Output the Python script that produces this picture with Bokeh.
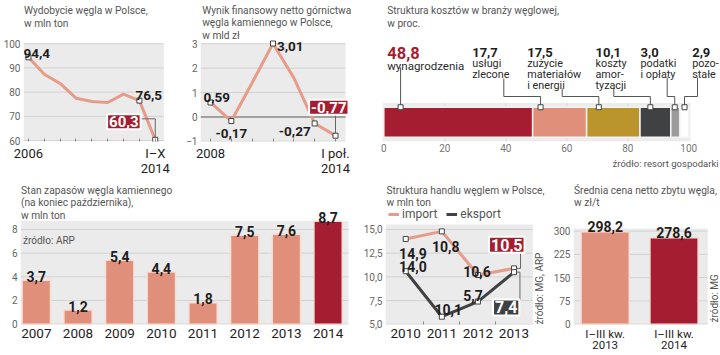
import numpy as np
from bokeh.plotting import figure
from bokeh.models import (Range1d, FixedTicker, Label, BoxAnnotation, Legend, LegendItem, Title)
from bokeh.layouts import row, column
from bokeh.embed import file_html
from bokeh.resources import INLINE

# ---------------- data ----------------
prod_periods = ["2006", "", "", "", "", "", "", "", "I–X\n2014"]
prod_values = [94.4, 87.4, 83.6, 77.5, 76.1, 75.7, 79.2, 76.5, 60.3]
prod_marked = [0, 7, 8]

fin_periods = ["2008", "", "", "", "", "", "I poł.\n2014"]
fin_values = [0.59, -0.17, 1.40, 3.01, 1.60, -0.27, -0.77]
fin_marked = [0, 1, 3, 5, 6]

cost_values = [48.8, 17.7, 17.5, 10.1, 3.0, 2.9]
cost_labels = ["48,8", "17,7", "17,5", "10,1", "3,0", "2,9"]
cost_desc = [["wynagrodzenia"], ["usługi", "zlecone"], ["zużycie", "materiałów", "i energii"],
             ["koszty", "amor-", "tyzacji"], ["podatki", "i opłaty"], ["pozo-", "stałe"]]

stock_years = ["2007", "2008", "2009", "2010", "2011", "2012", "2013", "2014"]
stock_values = [3.7, 1.2, 5.4, 4.4, 1.8, 7.5, 7.6, 8.7]
stock_labels = ["3,7", "1,2", "5,4", "4,4", "1,8", "7,5", "7,6", "8,7"]

trade_years = ["2010", "2011", "2012", "2013"]
import_values = [14.0, 14.8, 10.2, 10.9]
export_values = [10.6, 5.8, 7.4, 10.5]
import_labels = ["14,9", "10,8", "10,6", "10,5"]
export_labels = ["14,0", "10,1", "5,7", "7,4"]

price_periods = ["I–III kw.\n2013", "I–III kw.\n2014"]
price_values = [298.2, 278.6]
price_labels = ["298,2", "278,6"]

# ---------------- style ----------------
SALMON = "#e0907a"
SALMON_LINE = "#e69c88"
DARK_RED = "#a41d30"
GOLD = "#b9952c"
DARK = "#3f4142"
MIDGRAY = "#9b9b9b"
BG = "#ebebeb"
GRID = "#d2d2d2"
TXT = "#1e1e1e"
SUB = "#555555"
FONT = "Roboto"
TITLE_SIZE = 10.2


class Panel:
    """fig_box: page px (l, t, r, b); data_ref: data area in page px;
    drange: (x0, x1, y0, y1) of the data area. The frame extends from the data
    area's left/bottom up to the figure's top and right edges."""

    def __init__(self, fig_box, data_ref, drange, bg=BG):
        l, t, r, b = fig_box
        X0, Y0, X1, Y1 = data_ref
        x0, x1, y0, y1 = drange
        kx = (x1 - x0) / (X1 - X0)
        ky = (y1 - y0) / (Y1 - Y0)
        self.f = (X0, t, r, Y1)
        self.d = drange
        self.xr = (x0, x1 + (r - X1) * kx)
        self.yr = (y0, y1 + (Y0 - t) * ky)
        p = figure(width=r - l, height=b - t, x_range=Range1d(*self.xr), y_range=Range1d(*self.yr),
                   min_border_left=round(X0 - l), min_border_right=0,
                   min_border_top=0, min_border_bottom=round(b - Y1),
                   output_backend="svg", toolbar_location=None, title=None)
        p.outline_line_color = None
        p.background_fill_color = "white"
        p.border_fill_color = "white"
        p.xgrid.visible = False
        p.ygrid.visible = False
        if bg:
            p.add_layout(BoxAnnotation(left=x0, right=x1, bottom=y0, top=y1, fill_color=bg,
                                       fill_alpha=1, line_color=None, level="underlay"))
        for ax in p.axis:
            ax.axis_line_color = None
            ax.major_tick_line_color = None
            ax.minor_tick_line_color = None
            ax.major_tick_out = 0
            ax.major_tick_in = 0
            ax.minor_tick_out = 0
            ax.minor_tick_in = 0
            ax.major_label_text_font = FONT
        p.yaxis.major_label_text_font_size = "10px"
        p.yaxis.major_label_text_color = "#666666"
        p.yaxis.major_label_standoff = 3
        p.xaxis.major_label_text_font_size = "13px"
        p.xaxis.major_label_text_color = TXT
        p.xaxis.major_label_standoff = 4
        p.xaxis.major_label_text_line_height = 1.0
        self.p = p

    def kx(self):
        return (self.xr[1] - self.xr[0]) / (self.f[2] - self.f[0])

    def ky(self):
        return (self.yr[1] - self.yr[0]) / (self.f[3] - self.f[1])

    def at(self, X, Y):
        return (self.xr[0] + (X - self.f[0]) * self.kx(),
                self.yr[1] - (Y - self.f[1]) * self.ky())

    def off(self, x, y, dx=0.0, dy=0.0):
        return x + dx * self.kx(), y + dy * self.ky()

    def label(self, x, y, text, size, color=TXT, bold=False, align="left",
              baseline="alphabetic", angle=0.0, **kw):
        self.p.add_layout(Label(x=x, y=y, text=text, text_font=FONT,
                                text_font_size=f"{size}px", text_color=color,
                                text_font_style="bold" if bold else "normal",
                                text_align=align, text_baseline=baseline, angle=angle, **kw))

    def title(self, X, Y, lines, size=TITLE_SIZE, step=13.0):
        for i, ln in enumerate(lines):
            x, y = self.at(X, Y + i * step)
            self.label(x, y, ln, size, color=SUB)

    def box(self, x, y, text, fill, size=15):
        self.label(x, y, text, size, color="white", bold=True, align="center", baseline="middle",
                   background_fill_color=fill, border_line_color="white", border_line_width=2,
                   padding=2)

    def yticks(self, ticks, overrides=None, zero=None):
        self.p.yaxis.ticker = FixedTicker(ticks=ticks)
        if overrides:
            self.p.yaxis.major_label_overrides = overrides
        x0, x1 = self.d[0], self.d[1]
        self.p.segment(x0=[x0] * len(ticks), y0=ticks, x1=[x1] * len(ticks), y1=ticks,
                       line_color=GRID, line_width=1)
        if zero is not None:
            self.p.segment(x0=[x0], y0=[zero], x1=[x1], y1=[zero], line_color="#8c8c8c",
                           line_width=1.5)

    def xticks(self, labels):
        self.p.xaxis.ticker = FixedTicker(ticks=list(range(len(labels))))
        self.p.xaxis.major_label_overrides = {i: s for i, s in enumerate(labels)}


def markers(pan, xs, ys):
    pan.p.scatter(xs, ys, marker="square", size=5, fill_color="white", line_color="#444444",
                  line_width=1)


# ---------- panel 1 : production ----------
P1 = Panel((0, 0, 180, 178), (20, 43, 163, 141), (-0.31, 8.54, 59.6, 100.1))
P1.yticks([60, 70, 80, 90, 100])
P1.xticks(prod_periods)
P1.p.xaxis.major_tick_line_color = "#888888"
P1.p.xaxis.major_tick_in = 3
xs1 = list(range(len(prod_values)))
P1.p.line(xs1, prod_values, line_color=SALMON_LINE, line_width=3)
lx, ly = P1.off(8, prod_values[8], -14, 21)
P1.p.line([lx, 8, 8], [ly, ly, prod_values[8]], line_color="#666666", line_width=1)
markers(P1, [xs1[i] for i in prod_marked], [prod_values[i] for i in prod_marked])
P1.title(20.5, 9.5, ["Wydobycie węgla w Polsce,", "w mln ton"])
x, y = P1.off(0, prod_values[0], -5, 4)
P1.label(x, y, "94,4", 13.5, bold=True)
x, y = P1.off(7, prod_values[7], -4, 5)
P1.label(x, y, "76,5", 13.5, bold=True)
x, y = P1.off(8, prod_values[8], -32, 18)
P1.box(x, y, "60,3", DARK_RED)

# ---------- panel 2 : financial result ----------
P2 = Panel((180, 0, 360, 178), (200, 43, 345, 141), (-0.48, 6.48, -1.01, 3.01))
P2.yticks([-1, 0, 1, 2, 3], zero=0)
P2.xticks(fin_periods)
P2.p.xaxis.major_tick_line_color = "#888888"
P2.p.xaxis.major_tick_in = 3
xs2 = list(range(len(fin_values)))
P2.p.line(xs2, fin_values, line_color=SALMON_LINE, line_width=3)
lx, ly = P2.off(6, fin_values[6], 0, 21.5)
P2.p.line([6, 6], [ly, fin_values[6]], line_color="#666666", line_width=1)
markers(P2, [xs2[i] for i in fin_marked], [fin_values[i] for i in fin_marked])
P2.title(201.7, 9.5, ["Wynik finansowy netto górnictwa", "węgla kamiennego w Polsce,", "w mld zł"],
         step=12.8)
for idx, dx, dy, al in [(0, -7, 5, "left"), (1, 0, -12, "center"), (3, 4, -3.4, "left"),
                        (5, -4, -8, "right")]:
    x, y = P2.off(idx, fin_values[idx], dx, dy)
    P2.label(x, y, f"{fin_values[idx]:.2f}".replace(".", ","), 13.5, bold=True, align=al)
x, y = P2.off(6, fin_values[6], -6.7, 28.4)
P2.box(x, y, "-0,77", DARK_RED)

# ---------- panel 3 : cost structure ----------
P3 = Panel((360, 0, 720, 178), (382, 102.5, 690, 141), (-0.43, 100.56, -0.5, 0.5), bg="#ececec")
P3.p.yaxis.visible = False
P3.p.xaxis.ticker = FixedTicker(ticks=[0, 20, 40, 60, 80, 100])
P3.p.xaxis.major_label_text_font_size = "10px"
P3.p.xaxis.major_label_text_color = "#777777"
P3.p.xaxis.major_label_standoff = 2
gl = [20, 40, 60, 80]
P3.p.segment(x0=gl, y0=[-0.5] * 4, x1=gl, y1=[0.5] * 4, line_color="#dadada", line_width=1)
ends = list(np.cumsum(cost_values))
starts = [0.0] + ends[:-1]
cost_colors = [DARK_RED, SALMON, GOLD, DARK, MIDGRAY, "white"]
bar_h = 0.78
P3.p.hbar(y=[0] * 6, left=starts, right=ends, height=bar_h, fill_color=cost_colors,
          line_color="#f4f4f4", line_width=1.5)
label_X = [386.7, 471.7, 526.7, 595, 640, 691.7]
conn_X = [400, 503.3, 561.7, 613.3, 666.7, 697]
conn_Y0 = [67, 78, 88, 88, 77, 77]
anchor_off = [5.5, 2.6, 4.0, 3.4, 1.3, 1.5]
anchors = [s + a for s, a in zip(starts, anchor_off)]
top = bar_h / 2
xs_c, ys_c = [], []
for i in range(6):
    cx, cy0 = P3.at(conn_X[i], conn_Y0[i])
    _, cye = P3.at(conn_X[i], 96)
    if i == 0:
        xs_c.append([anchors[i], anchors[i]])
        ys_c.append([cy0, top])
    else:
        xs_c.append([cx, cx, anchors[i], anchors[i]])
        ys_c.append([cy0, cye, cye, top])
P3.p.multi_line(xs_c, ys_c, line_color="#555555", line_width=1)
markers(P3, anchors, [top] * 6)
P3.title(386.7, 10, ["Struktura kosztów w branży węglowej,", "w proc."])
for i in range(6):
    if i == 0:
        x, y = P3.at(label_X[i], 52.7)
        P3.label(x, y, cost_labels[i], 16.5, color=DARK_RED, bold=True)
        x, y = P3.at(label_X[i], 65)
        P3.label(x, y, cost_desc[i][0], 11.5, color="#2a2a2a")
    else:
        x, y = P3.at(label_X[i], 51.7)
        P3.label(x, y, cost_labels[i], 13, bold=True)
        for k, ln in enumerate(cost_desc[i]):
            x, y = P3.at(label_X[i], 63.3 + 10.7 * k)
            P3.label(x, y, ln, 10.8, color="#2a2a2a")
P3.p.add_layout(Title(text="źródło: resort gospodarki", align="right", text_font=FONT,
                      text_font_size="9.5px", text_font_style="normal", text_color=SUB,
                      standoff=2, offset=2), "below")

# ---------- panel 4 : stocks ----------
P4 = Panel((0, 178, 360, 355), (20, 221.3, 348, 327), (-0.38, 7.49, -0.03, 8.72))
P4.yticks([0, 2, 4, 6, 8])
P4.xticks(stock_years)
P4.p.xaxis.major_label_text_font_size = "13.5px"
xs4 = list(range(len(stock_values)))
colors4 = [SALMON] * (len(stock_values) - 1) + [DARK_RED]
P4.p.vbar(x=xs4, top=stock_values, width=0.68, fill_color=colors4, line_color="#f6ded6",
          line_width=1.5)
for i, v in enumerate(stock_values):
    x, y = P4.off(i, v, 0, 4)
    P4.label(x, y, stock_labels[i], 14, bold=True, align="center")
P4.title(20.5, 190, ["Stan zapasów węgla kamiennego", "(na koniec października),", "w mln ton"],
         step=12.8)
x, y = P4.at(22.5, 241)
P4.label(x, y, "źródło: ARP", 10, color=SUB)

# ---------- panel 5 : trade ----------
P5 = Panel((360, 178, 550, 355), (382, 225, 532, 327), (-0.56, 3.52, 4.98, 15.52))
P5.yticks([5, 7.5, 10, 12.5, 15], {5: "5,0", 7.5: "7,5", 10: "10,0", 12.5: "12,5", 15: "15,0"})
P5.xticks(trade_years)
P5.p.xaxis.ticker = FixedTicker(ticks=[0, 1, 2, 3], minor_ticks=[0.5, 1.5, 2.5])
P5.p.xaxis.minor_tick_line_color = "#888888"
P5.p.xaxis.minor_tick_in = 3
P5.p.xaxis.major_label_text_font_size = "13.5px"
xs5 = list(range(4))
r_imp = P5.p.line(xs5, import_values, line_color=SALMON_LINE, line_width=3)
r_exp = P5.p.line(xs5, export_values, line_color=DARK, line_width=3)
ix, iy = P5.off(3, import_values[3], 6.6, 16.7)
P5.p.line([ix, ix, 3], [iy, import_values[3], import_values[3]], line_color="#666666", line_width=1)
ex, ey = P5.off(3, export_values[3], 6.0, -28.4)
P5.p.line([ex, ex, 3], [ey, export_values[3], export_values[3]], line_color="#666666", line_width=1)
markers(P5, xs5, import_values)
markers(P5, xs5, export_values)
imp_off = [(7.3, -15), (4, -15), (-1, 3.4)]
exp_off = [(7.3, 5), (6.5, 7.6), (-5, 6)]
for i in range(3):
    x, y = P5.off(i, import_values[i], *imp_off[i])
    P5.label(x, y, import_labels[i], 14, bold=True, align="center")
    x, y = P5.off(i, export_values[i], *exp_off[i])
    P5.label(x, y, export_labels[i], 14, bold=True, align="center")
x, y = P5.off(3, import_values[3], -7.4, 24)
P5.box(x, y, import_labels[3], DARK_RED, size=16)
x, y = P5.off(3, export_values[3], -8, -36)
P5.box(x, y, export_labels[3], DARK, size=16)
leg = Legend(items=[LegendItem(label="import", renderers=[r_imp]),
                    LegendItem(label="eksport", renderers=[r_exp])],
             location=(3, 103), orientation="horizontal", background_fill_alpha=0,
             border_line_color=None, label_text_font=FONT, label_text_font_size="12px",
             label_text_color=SUB, glyph_width=11, glyph_height=10, label_height=10,
             label_standoff=3, spacing=9, padding=0, margin=0)
P5.p.add_layout(leg)
P5.title(383, 190, ["Struktura handlu węglem w Polsce,", "w mln ton"], step=12.3)
x, y = P5.at(539, 327)
P5.label(x, y, "źródło: MG, ARP", 10, color=SUB, baseline="middle", angle=np.pi / 2)

# ---------- panel 6 : price ----------
P6 = Panel((550, 178, 720, 355), (570, 229, 707, 327), (-0.46, 1.49, -1.0, 308.5))
P6.yticks([0, 75, 150, 225, 300])
P6.xticks(price_periods)
P6.p.xaxis.major_label_text_font_size = "11.5px"
P6.p.xaxis.major_label_text_line_height = 0.85
P6.p.xaxis.major_label_standoff = 2
P6.p.vbar(x=[0, 1], top=price_values, width=0.7, fill_color=[SALMON, DARK_RED],
          line_color="#f6ded6", line_width=1.5)
for i, v in enumerate(price_values):
    x, y = P6.off(i, v, 0, 5)
    P6.label(x, y, price_labels[i], 14, bold=True, align="center")
P6.title(570.5, 190, ["Średnia cena netto zbytu węgla,", "w zł/t"], step=12.3)
x, y = P6.at(713.5, 325)
P6.label(x, y, "źródło: MG", 10, color=SUB, baseline="middle", angle=np.pi / 2)

layout = column(row(P1.p, P2.p, P3.p), row(P4.p, P5.p, P6.p))
open("out.html", "w").write(file_html(layout, INLINE))
